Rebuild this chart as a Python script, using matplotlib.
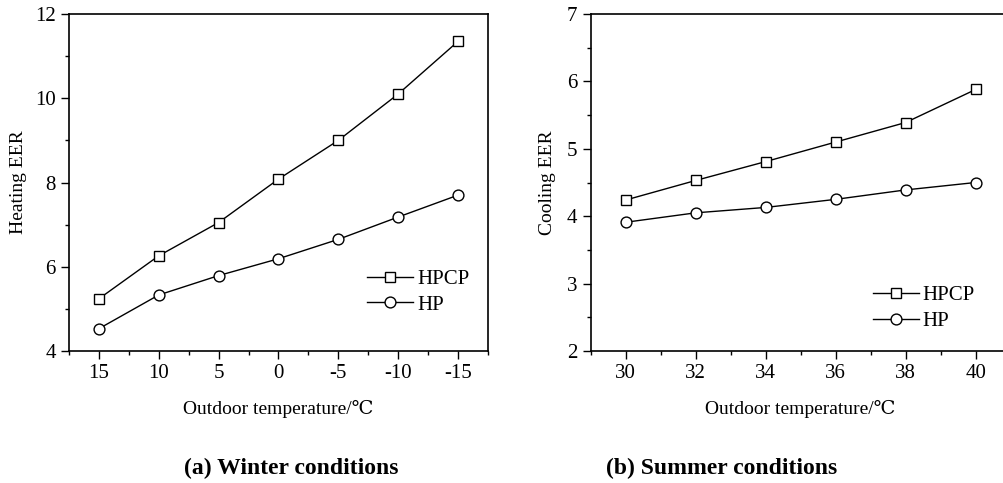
import matplotlib
matplotlib.use('Agg')
from matplotlib import pyplot as plt
from matplotlib.ticker import MultipleLocator

plt.rcParams['font.family'] = ['Liberation Serif', 'DejaVu Serif']
plt.rcParams['axes.unicode_minus'] = False

# Winter (heating) data
winter_temp = [15, 10, 5, 0, -5, -10, -15]
winter_hpcp = [5.24, 6.26, 7.05, 8.08, 9.00, 10.10, 11.35]
winter_hp = [4.53, 5.33, 5.79, 6.19, 6.65, 7.18, 7.70]

# Summer (cooling) data
summer_temp = [30, 32, 34, 36, 38, 40]
summer_hpcp = [4.24, 4.53, 4.81, 5.10, 5.39, 5.88]
summer_hp = [3.91, 4.05, 4.13, 4.25, 4.39, 4.50]

fig = plt.figure(figsize=(10.04, 4.83), dpi=100)
ax1 = fig.add_axes([0.0687, 0.2733, 0.4173, 0.6977])
ax2 = fig.add_axes([0.5883, 0.2733, 0.4183, 0.6977])

line_kw = dict(color='black', lw=1.0, mfc='white', mec='black', mew=1.0)

ax1.plot(winter_temp, winter_hpcp, marker='s', ms=6.5, label='HPCP', **line_kw)
ax1.plot(winter_temp, winter_hp, marker='o', ms=7.8, label='HP', **line_kw)
ax1.set_xlim(17.5, -17.5)
ax1.set_ylim(4, 12)
ax1.set_xticks(winter_temp)
ax1.xaxis.set_minor_locator(MultipleLocator(2.5))
ax1.yaxis.set_major_locator(MultipleLocator(2))
ax1.yaxis.set_minor_locator(MultipleLocator(1))
ax1.set_ylabel('Heating EER', fontsize=14, labelpad=6)
ax1.set_xlabel('Outdoor temperature/℃', fontsize=14, labelpad=12)
ax1.legend(loc='lower right', bbox_to_anchor=(1.0, 0.052), frameon=False,
           fontsize=15, handlelength=2.2, handletextpad=0.2, labelspacing=0.3)

ax2.plot(summer_temp, summer_hpcp, marker='s', ms=6.5, label='HPCP', **line_kw)
ax2.plot(summer_temp, summer_hp, marker='o', ms=7.8, label='HP', **line_kw)
ax2.set_xlim(29, 41)
ax2.set_ylim(2, 7)
ax2.set_xticks(summer_temp)
ax2.xaxis.set_minor_locator(MultipleLocator(1))
ax2.yaxis.set_major_locator(MultipleLocator(1))
ax2.yaxis.set_minor_locator(MultipleLocator(0.5))
ax2.set_ylabel('Cooling EER', fontsize=14, labelpad=8)
ax2.set_xlabel('Outdoor temperature/℃', fontsize=14, labelpad=12)
ax2.legend(loc='lower right', bbox_to_anchor=(0.96, 0.004), frameon=False,
           fontsize=15, handlelength=2.2, handletextpad=0.2, labelspacing=0.3)

for ax in (ax1, ax2):
    ax.tick_params(which='major', direction='out', length=6, width=1, labelsize=15)
    ax.tick_params(which='minor', direction='out', length=3, width=1)
    ax.tick_params(top=False, right=False, which='both')
    for s in ax.spines.values():
        s.set_linewidth(1.2)

fig.text(0.29, 0.018, '(a) Winter conditions', ha='center', va='baseline',
         fontsize=17, fontweight='bold')
fig.text(0.719, 0.018, '(b) Summer conditions', ha='center', va='baseline',
         fontsize=17, fontweight='bold')

fig.savefig('out.png', dpi=100)
